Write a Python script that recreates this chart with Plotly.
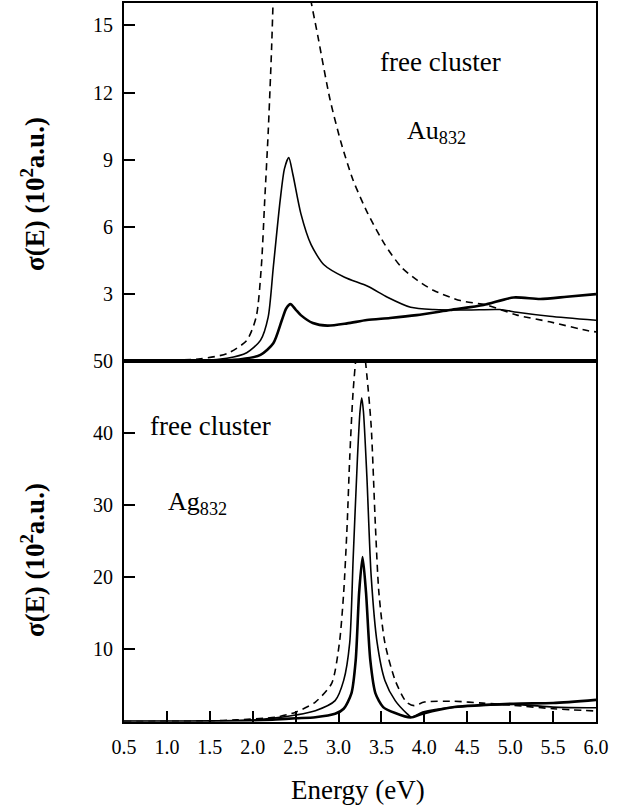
import plotly.graph_objects as go

# ---------------- data ----------------
# Au832 panel (top)
au_dash_x = [0.5, 1.0, 1.39, 1.7, 1.93, 2.04, 2.1, 2.14, 2.18, 2.22, 2.26, 2.32, 2.4, 2.48, 2.56, 2.64,
             2.76, 2.9, 3.03, 3.17, 3.34, 3.54, 3.73, 3.92, 4.11, 4.42, 4.73, 5.08, 5.46, 5.91, 6.0]
au_dash_y = [0.0, 0.02, 0.1, 0.33, 0.92, 1.96, 4.2, 7.2, 10.2, 14.0, 19.0, 26.0, 30.0, 28.0, 22.0, 17.0,
             14.5, 11.7, 9.75, 8.08, 6.6, 5.2, 4.2, 3.6, 3.15, 2.7, 2.5, 2.05, 1.75, 1.35, 1.3]

au_thin_x = [0.5, 1.0, 1.39, 1.7, 1.93, 2.09, 2.18, 2.24, 2.32, 2.37, 2.42, 2.47, 2.56, 2.68, 2.83,
             3.07, 3.34, 3.57, 3.84, 4.11, 4.5, 4.88, 5.08, 5.46, 6.0]
au_thin_y = [0.0, 0.0, 0.02, 0.12, 0.37, 0.92, 1.96, 4.2, 7.19, 8.6, 9.09, 8.3, 6.6, 5.2, 4.3,
             3.74, 3.34, 2.85, 2.4, 2.3, 2.28, 2.3, 2.18, 2.0, 1.82]

au_thick_x = [0.5, 1.0, 1.5, 1.86, 2.09, 2.24, 2.34, 2.39, 2.44, 2.5, 2.56, 2.7, 2.87, 3.1, 3.33,
              3.6, 3.91, 4.3, 4.69, 5.04, 5.35, 5.66, 6.0]
au_thick_y = [0.0, 0.0, 0.02, 0.08, 0.27, 0.79, 1.83, 2.35, 2.54, 2.3, 2.05, 1.7, 1.58, 1.68, 1.83,
              1.92, 2.05, 2.28, 2.5, 2.84, 2.77, 2.87, 2.99]

# Ag832 panel (bottom)
ag_dash_x = [0.5, 1.0, 1.5, 1.81, 2.27, 2.5, 2.73, 2.92, 3.01, 3.06, 3.1, 3.13, 3.17, 3.21, 3.25, 3.29,
             3.33, 3.38, 3.43, 3.47, 3.54, 3.66, 3.79, 3.88, 4.0, 4.35, 4.68, 5.04, 5.5, 6.0]
ag_dash_y = [0.0, 0.02, 0.08, 0.23, 0.6, 1.3, 2.7, 5.3, 10.9, 17.9, 27.2, 36.5, 45.8, 51.0, 53.0, 52.0,
             48.0, 41.0, 27.0, 17.9, 10.9, 5.7, 2.7, 2.2, 2.7, 2.8, 2.55, 2.24, 1.77, 1.45]

ag_thin_x = [0.5, 1.0, 1.5, 2.0, 2.27, 2.5, 2.73, 2.96, 3.06, 3.13, 3.17, 3.22, 3.25, 3.27, 3.29,
             3.33, 3.38, 3.45, 3.54, 3.66, 3.8, 3.85, 3.98, 4.35, 5.04, 5.5, 6.0]
ag_thin_y = [0.0, 0.0, 0.03, 0.2, 0.5, 0.9, 1.5, 2.9, 5.7, 10.9, 22.5, 36.5, 43.0, 44.9, 43.0,
             34.0, 20.2, 10.9, 5.7, 2.9, 1.07, 0.6, 1.3, 2.0, 2.38, 2.0, 1.9]

ag_thick_x = [0.5, 1.0, 1.5, 2.0, 2.27, 2.5, 2.73, 2.96, 3.06, 3.15, 3.2, 3.24, 3.28, 3.32, 3.37,
              3.43, 3.52, 3.66, 3.84, 3.98, 4.35, 5.04, 5.5, 6.0]
ag_thick_y = [0.0, 0.0, 0.02, 0.12, 0.28, 0.45, 0.6, 1.07, 1.77, 3.9, 8.5, 17.9, 22.8, 17.9, 8.5,
              3.9, 2.0, 1.17, 0.55, 1.07, 2.0, 2.47, 2.56, 3.0]

# ticks
x_tickvals = [0.5, 1.0, 1.5, 2.0, 2.5, 3.0, 3.5, 4.0, 4.5, 5.0, 5.5, 6.0]
x_ticktext = ["0.5", "1.0", "1.5", "2.0", "2.5", "3.0", "3.5", "4.0", "4.5", "5.0", "5.5", "6.0"]
top_y_tickvals = [3, 6, 9, 12, 15]
top_y_ticktext = ["3", "6", "9", "12", "15"]
bot_y_tickvals = [10, 20, 30, 40, 50]
bot_y_ticktext = ["10", "20", "30", "40", "50"]

# ---------------- figure ----------------
W, H = 622, 809
FONT = "Liberation Serif"
BLACK = "#000000"

fig = go.Figure()

def add(x, y, xa, ya, width, dash=None):
    fig.add_trace(go.Scatter(
        x=x, y=y, xaxis=xa, yaxis=ya, mode="lines",
        line=dict(color=BLACK, width=width, dash=dash or "solid", shape="spline", smoothing=0.7),
        showlegend=False, hoverinfo="skip"))

add(au_dash_x, au_dash_y, "x", "y", 1.6, "7px,5px")
add(au_thin_x, au_thin_y, "x", "y", 1.6)
add(au_thick_x, au_thick_y, "x", "y", 2.6)
add(ag_dash_x, ag_dash_y, "x2", "y2", 1.6, "7px,5px")
add(ag_thin_x, ag_thin_y, "x2", "y2", 1.6)
add(ag_thick_x, ag_thick_y, "x2", "y2", 2.6)

x_dom = [124 / W, 596 / W]
top_dom = [1 - 361 / H, 1 - 3 / H]
bot_dom = [1 - 721.5 / H, 1 - 361 / H]

axis_common = dict(showline=True, linecolor=BLACK, linewidth=2, mirror=True,
                   showgrid=False, zeroline=False, automargin=False,
                   tickfont=dict(family=FONT, size=20, color=BLACK))

fig.update_layout(
    width=W, height=H,
    autosize=False,
    showlegend=False,
    margin=dict(l=0, r=0, t=0, b=0, pad=0, autoexpand=False),
    paper_bgcolor="white", plot_bgcolor="white",
    xaxis=dict(domain=x_dom, anchor="y", range=[0.5, 6.0], showticklabels=False, ticks="",
               **axis_common),
    yaxis=dict(domain=top_dom, anchor="x", range=[0, 16], tickvals=top_y_tickvals,
               ticktext=top_y_ticktext, ticks="inside", ticklen=11, tickwidth=2,
               tickcolor=BLACK, ticklabelstandoff=5, **axis_common),
    xaxis2=dict(domain=x_dom, anchor="y2", range=[0.5, 6.0], tickvals=x_tickvals,
                ticktext=x_ticktext, ticks="inside", ticklen=11, tickwidth=2,
                tickcolor=BLACK, ticklabelstandoff=6, **axis_common),
    yaxis2=dict(domain=bot_dom, anchor="x2", range=[0, 50], tickvals=bot_y_tickvals,
                ticktext=bot_y_ticktext, ticks="inside", ticklen=11, tickwidth=2,
                tickcolor=BLACK, ticklabelstandoff=5, **axis_common),
)

def ann(text, px, py, size, bold=False, angle=0, xanchor="left"):
    fig.add_annotation(
        text=f"<b>{text}</b>" if bold else text,
        x=px / W, y=1 - py / H, xref="paper", yref="paper",
        xanchor=xanchor, yanchor="middle", showarrow=False, textangle=angle,
        font=dict(family=FONT, size=size, color=BLACK))

ylabel = "σ(E) (10<sup>2</sup>a.u.)"
ann(ylabel, 33, 194, 27, bold=True, angle=-90, xanchor="center")
ann(ylabel, 33, 560, 27, bold=True, angle=-90, xanchor="center")
ann("Energy (eV)", 358, 790, 27, xanchor="center")
ann("free cluster", 378, 62, 27)
ann("Au<sub>832</sub>", 405, 132, 26)
ann("free cluster", 148, 426, 27)
ann("Ag<sub>832</sub>", 166, 503, 26)

fig.write_html("out.html", config={"responsive": False})
